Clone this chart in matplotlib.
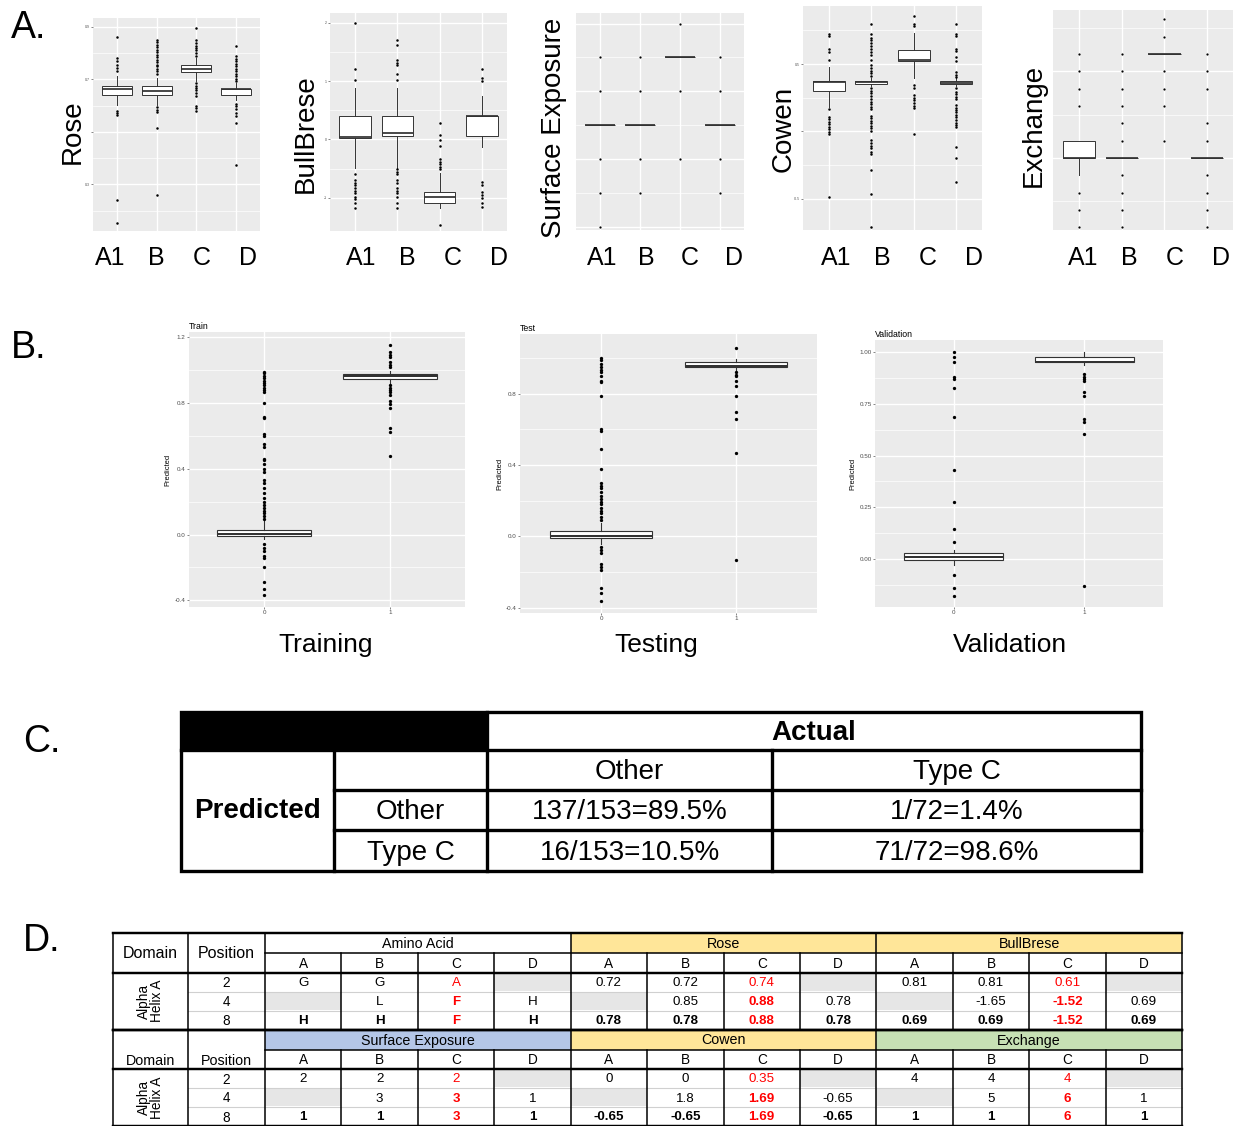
import matplotlib
matplotlib.use('Agg')
import matplotlib.pyplot as plt
from matplotlib.patches import Rectangle

plt.rcParams['font.family'] = ['Liberation Sans', 'DejaVu Sans']

W, H = 1240, 1126

# ---------------- panel A data (box stats) ----------------
A_CATS = ['A1', 'B', 'C', 'D']

ROSE_Q1 = [0.640, 0.640, 0.727, 0.640]
ROSE_MED = [0.663, 0.657, 0.741, 0.663]
ROSE_Q3 = [0.675, 0.675, 0.753, 0.663]
ROSE_LO = [0.603, 0.603, 0.692, 0.622]
ROSE_HI = [0.711, 0.705, 0.782, 0.686]
ROSE_OUT = [
    [0.862, 0.782, 0.769, 0.756, 0.743, 0.731, 0.580, 0.571, 0.565, 0.240, 0.153],
    [0.852, 0.841, 0.832, 0.824, 0.813, 0.803, 0.794, 0.785, 0.775, 0.765, 0.756,
     0.750, 0.740, 0.731, 0.722, 0.594, 0.584, 0.574, 0.514, 0.259],
    [0.896, 0.849, 0.839, 0.829, 0.820, 0.811, 0.800, 0.790, 0.686, 0.676, 0.667,
     0.658, 0.648, 0.635, 0.599, 0.590, 0.580],
    [0.829, 0.788, 0.778, 0.769, 0.759, 0.750, 0.740, 0.731, 0.722, 0.711, 0.703,
     0.692, 0.606, 0.597, 0.587, 0.571, 0.559, 0.533, 0.374],
]

BULL_Q1 = [0.017, 0.057, -1.083, 0.057]
BULL_MED = [0.046, 0.103, -0.980, 0.399]
BULL_Q3 = [0.399, 0.399, -0.895, 0.399]
BULL_LO = [-0.484, -0.484, -1.180, -0.125]
BULL_HI = [0.889, 0.889, -0.581, 0.741]
BULL_OUT = [
    [2.0, 1.214, 1.026, -0.598, -0.695, -0.741, -0.786, -0.838, -0.883, -0.923,
     -0.980, -1.026, -1.083, -1.180],
    [1.709, 1.624, 1.356, 1.311, 1.271, 1.117, 1.014, -0.513, -0.553, -0.593,
     -0.695, -0.741, -0.838, -0.877, -0.923, -0.980, -1.083, -1.180],
    [0.274, 0.074, -0.011, -0.108, -0.342, -0.382, -0.422, -0.467, -0.513, -1.464],
    [1.214, 1.060, 1.003, -0.724, -0.781, -0.895, -0.952, -1.009, -1.083, -1.151],
]

SURF_MED = [4, 4, 6, 4]
SURF_OUT = [[6, 5, 3, 2, 1], [6, 5, 3, 2], [7, 5, 3], [6, 5, 3, 2]]

COWEN_Q1 = [0.300, 0.351, 0.522, 0.351]
COWEN_MED = [0.369, 0.364, 0.530, 0.361]
COWEN_Q3 = [0.374, 0.374, 0.604, 0.376]
COWEN_LO = [0.183, 0.337, 0.399, 0.337]
COWEN_HI = [0.480, 0.394, 0.728, 0.394]
COWEN_OUT = [
    [0.720, 0.708, 0.609, 0.592, 0.530, 0.163, 0.109, 0.092, 0.072, 0.054, 0.035,
     0.015, -0.002, -0.022, -0.485],
    [0.795, 0.720, 0.696, 0.678, 0.658, 0.636, 0.609, 0.592, 0.567, 0.530, 0.493,
     0.468, 0.448, 0.431, 0.411, 0.319, 0.300, 0.282, 0.262, 0.240, 0.220, 0.200,
     0.183, 0.163, 0.114, 0.097, 0.079, 0.059, 0.040, 0.022, 0.002, -0.064, -0.084,
     -0.106, -0.126, -0.151, -0.171, -0.287, -0.468, -0.708],
    [0.856, 0.797, 0.782, 0.344, 0.319, 0.270, 0.250, 0.233, 0.208, 0.188, 0.171,
     -0.022],
    [0.795, 0.720, 0.708, 0.609, 0.597, 0.550, 0.525, 0.443, 0.418, 0.401, 0.319,
     0.295, 0.277, 0.257, 0.238, 0.196, 0.176, 0.158, 0.141, 0.121, 0.104, 0.084,
     0.064, 0.047, 0.035, -0.114, -0.196, -0.374],
]

EXCH_Q1 = [4, 4, 10, 4]
EXCH_MED = [4, 4, 10, 4]
EXCH_Q3 = [5, 4, 10, 4]
EXCH_LO = [3, 4, 10, 4]
EXCH_HI = [5, 4, 10, 4]
EXCH_OUT = [[10, 9, 8, 7, 2, 1, 0], [10, 9, 8, 7, 6, 5, 3, 2, 1, 0],
            [12, 11, 9, 8, 7, 5], [10, 9, 8, 6, 5, 3, 2, 1, 0]]

# ---------------- panel B data ----------------
B_CATS = ['0', '1']

TRAIN_Q1 = [-0.006, 0.947]
TRAIN_MED = [0.004, 0.962]
TRAIN_Q3 = [0.028, 0.974]
TRAIN_LO = [-0.03, 0.92]
TRAIN_HI = [0.08, 0.994]
TRAIN_OUT = [
    [0.99, 0.98, 0.96, 0.95, 0.93, 0.92, 0.91, 0.89, 0.88, 0.865, 0.80, 0.715, 0.705,
     0.61, 0.60, 0.55, 0.53, 0.46, 0.45, 0.43, 0.40, 0.38, 0.33, 0.31, 0.28, 0.25,
     0.22, 0.20, 0.18, 0.16, 0.14, 0.13, 0.115, 0.095, -0.06, -0.08, -0.10, -0.13,
     -0.14, -0.20, -0.29, -0.33, -0.37],
    [1.15, 1.11, 1.09, 1.08, 1.05, 1.03, 1.02, 0.91, 0.89, 0.875, 0.865, 0.85, 0.81,
     0.79, 0.77, 0.65, 0.62, 0.48],
]

TEST_Q1 = [-0.01, 0.95]
TEST_MED = [0.0, 0.959]
TEST_Q3 = [0.028, 0.978]
TEST_LO = [-0.04, 0.93]
TEST_HI = [0.075, 0.995]
TEST_OUT = [
    [1.0, 0.99, 0.97, 0.95, 0.935, 0.92, 0.90, 0.875, 0.865, 0.79, 0.60, 0.59, 0.49,
     0.38, 0.30, 0.285, 0.27, 0.25, 0.225, 0.21, 0.195, 0.18, 0.16, 0.145, 0.13, 0.11,
     0.09, -0.06, -0.075, -0.095, -0.155, -0.17, -0.19, -0.29, -0.32, -0.36],
    [1.06, 0.92, 0.905, 0.90, 0.87, 0.845, 0.79, 0.70, 0.66, 0.47, -0.13],
]

VAL_Q1 = [-0.005, 0.952]
VAL_MED = [0.008, 0.955]
VAL_Q3 = [0.027, 0.976]
VAL_LO = [-0.03, 0.94]
VAL_HI = [0.044, 1.0]
VAL_OUT = [
    [1.0, 0.976, 0.952, 0.879, 0.871, 0.826, 0.689, 0.43, 0.277, 0.144, 0.08,
     -0.077, -0.142, -0.179],
    [0.895, 0.882, 0.871, 0.86, 0.81, 0.79, 0.676, 0.665, 0.603, -0.13],
]

# ---------------- panel C / D data ----------------
C_COLS = ['Other', 'Type C']
C_ROWS = ['Other', 'Type C']
C_CELLS = [['137/153=89.5%', '1/72=1.4%'], ['16/153=10.5%', '71/72=98.6%']]

D_SUB = ['A', 'B', 'C', 'D']
D_POS = ['2', '4', '8']
D_GROUPS_1 = ['Amino Acid', 'Rose', 'BullBrese']
D_GROUPS_2 = ['Surface Exposure', 'Cowen', 'Exchange']
AMINO = [['G', 'G', 'A', ''], ['', 'L', 'F', 'H'], ['H', 'H', 'F', 'H']]
ROSE_T = [['0.72', '0.72', '0.74', ''], ['', '0.85', '0.88', '0.78'],
          ['0.78', '0.78', '0.88', '0.78']]
BULL_T = [['0.81', '0.81', '0.61', ''], ['', '-1.65', '-1.52', '0.69'],
          ['0.69', '0.69', '-1.52', '0.69']]
SURF_T = [['2', '2', '2', ''], ['', '3', '3', '1'], ['1', '1', '3', '1']]
COWEN_T = [['0', '0', '0.35', ''], ['', '1.8', '1.69', '-0.65'],
           ['-0.65', '-0.65', '1.69', '-0.65']]
EXCH_T = [['4', '4', '4', ''], ['', '5', '6', '1'], ['1', '1', '6', '1']]


def px_rect(x0, y0, x1, y1):
    return [x0 / W, 1 - y1 / H, (x1 - x0) / W, (y1 - y0) / H]


def gg_axes(rect, ylim, majors, minors, ncat, labels, tick_fs):
    ax = fig.add_axes(px_rect(*rect))
    ax.set_facecolor('#EBEBEB')
    for s in ax.spines.values():
        s.set_visible(False)
    ax.set_xlim(0.4, ncat + 0.6)
    ax.set_ylim(*ylim)
    ax.set_xticks(range(1, ncat + 1))
    ax.set_yticks(majors)
    ax.set_yticks(minors, minor=True)
    ax.set_yticklabels(labels)
    ax.grid(True, which='major', color='white', lw=1.0)
    ax.grid(True, which='minor', axis='y', color='white', lw=0.5)
    ax.set_axisbelow(True)
    ax.tick_params(which='minor', length=0)
    ax.tick_params(which='major', length=1.5, width=0.5, color='#555555',
                   labelsize=tick_fs, labelcolor='#4D4D4D', pad=1)
    return ax


def draw_boxes(ax, q1, med, q3, lo, hi, out, lw, ms):
    stats = [dict(q1=a, med=m, q3=b, whislo=l, whishi=h, fliers=f)
             for a, m, b, l, h, f in zip(q1, med, q3, lo, hi, out)]
    ax.bxp(stats, positions=list(range(1, len(stats) + 1)), widths=0.75,
           showcaps=False, patch_artist=True, manage_ticks=False,
           boxprops=dict(facecolor='white', edgecolor='#333333', linewidth=lw),
           medianprops=dict(color='#333333', linewidth=lw * 1.8),
           whiskerprops=dict(color='#333333', linewidth=lw),
           flierprops=dict(marker='o', markersize=ms, markerfacecolor='black',
                           markeredgecolor='none'))


fig = plt.figure(figsize=(W / 100, H / 100), dpi=100)

# ---------------- panel A ----------------
ax = gg_axes((93, 18, 260, 231), (0.122, 0.934), [0.3, 0.5, 0.7, 0.9],
             [0.2, 0.4, 0.6, 0.8], 4, ['0.3', '', '0.7', '0.9'], 2.5)
draw_boxes(ax, ROSE_Q1, ROSE_MED, ROSE_Q3, ROSE_LO, ROSE_HI, ROSE_OUT, 0.7, 1.8)
ax.set_xticklabels([])
ax.tick_params(axis='x', length=0)

ax = gg_axes((330, 13, 507, 231), (-1.567, 2.165), [-1, 0, 1, 2],
             [-0.5, 0.5, 1.5], 4, ['-1', '0', '1', '2'], 2.5)
draw_boxes(ax, BULL_Q1, BULL_MED, BULL_Q3, BULL_LO, BULL_HI, BULL_OUT, 0.7, 1.8)
ax.set_xticklabels([])
ax.tick_params(axis='x', length=0)

ax = gg_axes((576, 13, 744, 230), (0.92, 7.31), [1, 3, 5, 7], [2, 4, 6], 4,
             ['', '', '', ''], 2.5)
draw_boxes(ax, SURF_MED, SURF_MED, SURF_MED, SURF_MED, SURF_MED, SURF_OUT, 0.7, 1.6)
ax.set_xticklabels([])
ax.tick_params(axis='both', length=0)

ax = gg_axes((803, 6, 982, 230), (-0.733, 0.931), [-0.5, 0.0, 0.5],
             [-0.25, 0.25, 0.75], 4, ['-0.5', '', '0.5'], 2.5)
draw_boxes(ax, COWEN_Q1, COWEN_MED, COWEN_Q3, COWEN_LO, COWEN_HI, COWEN_OUT, 0.7, 1.8)
ax.set_xticklabels([])
ax.tick_params(axis='x', length=0)

ax = gg_axes((1053, 10, 1233, 230), (-0.15, 12.54), [4, 9], [1.5, 6.5, 11.5], 4,
             ['', ''], 2.5)
draw_boxes(ax, EXCH_Q1, EXCH_MED, EXCH_Q3, EXCH_LO, EXCH_HI, EXCH_OUT, 0.7, 1.6)
ax.set_xticklabels([])
ax.tick_params(axis='both', length=0)

A_TITLES = ['Rose', 'BullBrese', 'Surface Exposure', 'Cowen', 'Exchange']
A_TITLE_X = [73, 306, 554, 784, 1034]
A_TITLE_Y = [132, 134, 128, 129, 125]
A_LABEL_X0 = [110, 361, 602, 836, 1083]
A_LABEL_STEP = [46, 46, 44, 46, 46]
for t, tx, ty, x0, st in zip(A_TITLES, A_TITLE_X, A_TITLE_Y, A_LABEL_X0, A_LABEL_STEP):
    fig.text(tx / W, 1 - ty / H, t, rotation=90, fontsize=20, ha='center', va='center')
    for i, c in enumerate(A_CATS):
        fig.text((x0 + i * st) / W, 1 - 258 / H, c, fontsize=18, ha='center', va='center')

# ---------------- panel B ----------------
B_PANELS = [
    ((189, 332, 465, 607), (-0.44, 1.23), [-0.4, 0.0, 0.4, 0.8, 1.2],
     [-0.2, 0.2, 0.6, 1.0], ['-0.4', '0.0', '0.4', '0.8', '1.2'],
     (TRAIN_Q1, TRAIN_MED, TRAIN_Q3, TRAIN_LO, TRAIN_HI, TRAIN_OUT), 'Train', 'Training'),
    ((520, 334, 817, 613), (-0.43, 1.136), [-0.4, 0.0, 0.4, 0.8],
     [-0.2, 0.2, 0.6, 1.0], ['-0.4', '0.0', '0.4', '0.8'],
     (TEST_Q1, TEST_MED, TEST_Q3, TEST_LO, TEST_HI, TEST_OUT), 'Test', 'Testing'),
    ((875, 340, 1163, 607), (-0.234, 1.06), [0.0, 0.25, 0.5, 0.75, 1.0],
     [-0.125, 0.125, 0.375, 0.625, 0.875], ['0.00', '0.25', '0.50', '0.75', '1.00'],
     (VAL_Q1, VAL_MED, VAL_Q3, VAL_LO, VAL_HI, VAL_OUT), 'Validation', 'Validation'),
]
B_BIG_X = [326, 656, 1010]
for (rect, ylim, mj, mn, lab, st, small, big), bx in zip(B_PANELS, B_BIG_X):
    ax = gg_axes(rect, ylim, mj, mn, 2, lab, 4.5)
    draw_boxes(ax, *st, 0.8, 2.4)
    ax.set_xticklabels(B_CATS)
    ax.set_title(small, loc='left', fontsize=6.3, pad=2)
    ax.set_ylabel('Predicted', fontsize=5.4, labelpad=2)
    fig.text(bx / W, 1 - 645 / H, big, fontsize=19, ha='center', va='center')

# ---------------- overlay for labels and tables ----------------
ov = fig.add_axes([0, 0, 1, 1])
ov.set_xlim(0, W)
ov.set_ylim(H, 0)
ov.set_axis_off()
ov.patch.set_visible(False)

for lab, x, y in [('A.', 29, 28), ('B.', 29, 348), ('C.', 42, 742), ('D.', 42, 941)]:
    ov.text(x, y, lab, fontsize=27, ha='center', va='center')

# panel C table
CX = [181, 334, 487, 772, 1141]
CY = [712, 750, 790, 830, 871]
clw = 2.4
ov.add_patch(Rectangle((CX[0], CY[0]), CX[2] - CX[0], CY[1] - CY[0], color='black'))
ov.add_patch(Rectangle((CX[0], CY[0]), CX[-1] - CX[0], CY[-1] - CY[0], fill=False,
                       lw=clw, ec='black'))
ov.plot([CX[0], CX[-1]], [CY[1], CY[1]], color='black', lw=clw)
for y in CY[2:4]:
    ov.plot([CX[1], CX[-1]], [y, y], color='black', lw=clw)
for x in [CX[1], CX[3]]:
    ov.plot([x, x], [CY[1], CY[-1]], color='black', lw=clw)
ov.plot([CX[2], CX[2]], [CY[0], CY[-1]], color='black', lw=clw)
ov.text((CX[2] + CX[-1]) / 2, (CY[0] + CY[1]) / 2 + 2, 'Actual', fontsize=20,
        fontweight='bold', ha='center', va='center')
ov.text((CX[0] + CX[1]) / 2, (CY[1] + CY[-1]) / 2 + 1, 'Predicted', fontsize=20,
        fontweight='bold', ha='center', va='center')
for j, c in enumerate(C_COLS):
    ov.text((CX[2 + j] + CX[3 + j]) / 2, (CY[1] + CY[2]) / 2 + 2, c, fontsize=20,
            ha='center', va='center')
for i, r in enumerate(C_ROWS):
    yc = (CY[2 + i] + CY[3 + i]) / 2 + 2
    ov.text((CX[1] + CX[2]) / 2, yc, r, fontsize=20, ha='center', va='center')
    for j in range(2):
        ov.text((CX[2 + j] + CX[3 + j]) / 2, yc, C_CELLS[i][j], fontsize=20,
                ha='center', va='center')

# panel D table
DX = [113, 188] + [265 + k * 76.42 for k in range(13)]
GROUP_COLORS_1 = ['white', '#FFE699', '#FFE699']
GROUP_COLORS_2 = ['#B4C6E7', '#FFE699', '#C6E0B4']
TABLES_1 = [AMINO, ROSE_T, BULL_T]
TABLES_2 = [SURF_T, COWEN_T, EXCH_T]
BLACK_LW = 1.1


def draw_block(y0, groups, colors, tables, first):
    h1, h2, hr = 20, 19.5, 19
    ya = y0 + h1
    yb = ya + h2
    yrows = [yb + k * hr for k in range(4)]
    bottom = yrows[-1]
    for g, (name, col, tab) in enumerate(zip(groups, colors, tables)):
        gx0, gx1 = DX[2 + 4 * g], DX[6 + 4 * g]
        ov.add_patch(Rectangle((gx0, y0), gx1 - gx0, h1, color=col, lw=0))
        ov.text((gx0 + gx1) / 2, y0 + h1 / 2 + 1, name, fontsize=10.3,
                ha='center', va='center')
        for c in range(4):
            cx0, cx1 = DX[2 + 4 * g + c], DX[3 + 4 * g + c]
            ov.text((cx0 + cx1) / 2, ya + h2 / 2 + 1, D_SUB[c], fontsize=9.8,
                    ha='center', va='center')
            for r in range(3):
                v = tab[r][c]
                if v == '':
                    ov.add_patch(Rectangle((cx0, yrows[r] + 1), cx1 - cx0, hr - 2,
                                           color='#E6E6E6', lw=0))
                    continue
                bold = r == 2 or (c == 2 and r == 1)
                ov.text((cx0 + cx1) / 2, yrows[r] + hr / 2 + 1, v, fontsize=9.6,
                        ha='center', va='center', color='red' if c == 2 else 'black',
                        fontweight='bold' if bold else 'normal')
    # Domain / Position
    if first:
        ov.text((DX[0] + DX[1]) / 2, (y0 + yb) / 2 + 1, 'Domain', fontsize=11.5,
                ha='center', va='center')
        ov.text((DX[1] + DX[2]) / 2, (y0 + yb) / 2 + 1, 'Position', fontsize=11.5,
                ha='center', va='center')
    else:
        ov.text((DX[0] + DX[1]) / 2, ya + h2 / 2 + 1.5, 'Domain', fontsize=10.3,
                ha='center', va='center')
        ov.text((DX[1] + DX[2]) / 2, ya + h2 / 2 + 1.5, 'Position', fontsize=10.3,
                ha='center', va='center')
    ov.text((DX[0] + DX[1]) / 2, (yb + bottom) / 2, 'Alpha\nHelix A', fontsize=9.8,
            rotation=90, ha='center', va='center', linespacing=0.95)
    for r, p in enumerate(D_POS):
        ov.text((DX[1] + DX[2]) / 2, yrows[r] + hr / 2 + 1, p, fontsize=9.8,
                ha='center', va='center')
    # light row separators
    for y in yrows[1:3]:
        ov.plot([DX[1], DX[-1]], [y, y], color='#D0D0D0', lw=0.8)
    # black lines
    ov.plot([DX[0], DX[-1]], [y0, y0], color='black', lw=BLACK_LW * 1.6)
    ov.plot([DX[2], DX[-1]], [ya, ya], color='black', lw=BLACK_LW)
    ov.plot([DX[0], DX[-1]], [yb, yb], color='black', lw=BLACK_LW * 1.6)
    ov.plot([DX[0], DX[-1]], [bottom, bottom], color='black', lw=BLACK_LW * 1.6)
    for k, x in enumerate(DX):
        top = y0 if (k <= 2 or (k - 2) % 4 == 0) else ya
        ov.plot([x, x], [top, bottom], color='black', lw=BLACK_LW)


draw_block(933, D_GROUPS_1, GROUP_COLORS_1, TABLES_1, True)
draw_block(1029.5, D_GROUPS_2, GROUP_COLORS_2, TABLES_2, False)

fig.savefig('out.png', dpi=100)
